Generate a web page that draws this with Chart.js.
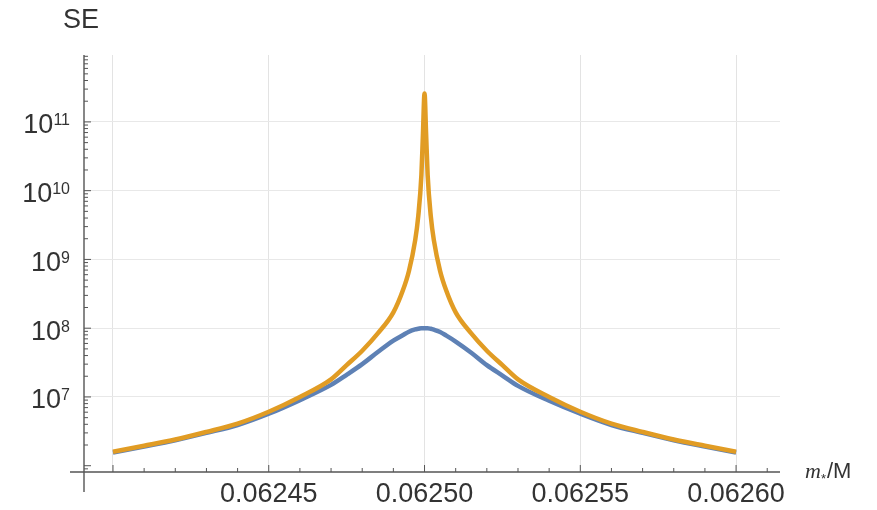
<!DOCTYPE html>
<html>
<head>
<meta charset="utf-8">
<script src="https://cdn.jsdelivr.net/npm/chart.js@4.4.1/dist/chart.umd.min.js"></script>
<style>
  html, body { margin: 0; padding: 0; background: #fff; }
  #wrap { width: 877px; height: 510px; }
</style>
</head>
<body>
<div id="wrap"><canvas id="chart" width="877" height="510"></canvas></div>
<script>
// m_*/M sample positions
const massRatio = [
  0.0624, 0.06241, 0.06242, 0.06243, 0.06244, 0.06245, 0.06246, 0.06247, 0.062475, 0.06248,
  0.062485, 0.06249, 0.062493, 0.062495, 0.062497, 0.062498, 0.062499, 0.0624995, 0.0625,
  0.0625005, 0.062501, 0.062502, 0.062503, 0.062505, 0.062507, 0.06251, 0.062515, 0.06252,
  0.062525, 0.06253, 0.06254, 0.06255, 0.06256, 0.06257, 0.06258, 0.06259, 0.0626
];
// SE, blue curve
const seBlue = [
  1.55e6, 1.9e6, 2.35e6, 3.0e6, 3.9e6, 5.7e6, 9.0e6, 1.5e7, 2.1e7, 3.0e7,
  4.5e7, 6.6e7, 7.9e7, 8.9e7, 9.6e7, 9.8e7, 1.0e8, 1.0e8, 1.0e8,
  1.0e8, 1.0e8, 9.8e7, 9.5e7, 8.8e7, 7.8e7, 6.4e7, 4.4e7, 2.9e7,
  2.05e7, 1.45e7, 8.8e6, 5.7e6, 3.9e6, 3.0e6, 2.35e6, 1.9e6, 1.55e6
];
// SE, orange curve
const seOrange = [
  1.6e6, 1.95e6, 2.4e6, 3.1e6, 4.1e6, 6.1e6, 1.0e7, 1.8e7, 2.9e7, 4.7e7,
  8.4e7, 1.7e8, 3.5e8, 6.8e8, 1.9e9, 4.3e9, 1.7e10, 6.8e10, 2.6e11,
  6.8e10, 1.7e10, 4.3e9, 1.9e9, 6.8e8, 3.5e8, 1.7e8, 8.4e7, 4.7e7,
  2.9e7, 1.8e7, 1.0e7, 6.1e6, 4.1e6, 3.1e6, 2.4e6, 1.95e6, 1.6e6
];

const xTickValues = [0.0624, 0.06245, 0.0625, 0.06255, 0.0626];
const xTickLabels = ['', '0.06245', '0.06250', '0.06255', '0.06260'];
const yTickValues = [1e7, 1e8, 1e9, 1e10, 1e11];
const yTickExponents = ['7', '8', '9', '10', '11'];

const X_MIN = 0.0623907, X_MAX = 0.0626141;
const Y_MIN = 8.1e5, Y_MAX = 9.4e11;

const fontFamily = '"Liberation Sans", Arial, sans-serif';
const tickFont = { family: fontFamily, size: 27 };
const textColor = '#333';
const axisColor = '#555';

// Mathematica-style axes: crossing lines, inward ticks, 10^n labels, axis labels
const axesPlugin = {
  id: 'mmaAxes',
  afterDraw(chart) {
    const { ctx, chartArea: a, scales: { x, y } } = chart;
    ctx.save();
    ctx.strokeStyle = axisColor;
    ctx.lineWidth = 1.4;
    ctx.beginPath();
    ctx.moveTo(a.left - 14, a.bottom);
    ctx.lineTo(a.right, a.bottom);
    ctx.moveTo(a.left, a.top);
    ctx.lineTo(a.left, a.bottom + 20);
    ctx.stroke();

    ctx.lineWidth = 1;
    ctx.beginPath();
    for (let k = -1; k <= 21; k++) {
      const v = 0.0624 + k * 0.00001;
      const px = x.getPixelForValue(v);
      if (px < a.left - 0.5 || px > a.right) continue;
      const len = k % 5 === 0 ? 7 : 4;
      ctx.moveTo(px, a.bottom);
      ctx.lineTo(px, a.bottom - len);
    }
    for (let e = 5; e <= 11; e++) {
      for (let m = 1; m <= 9; m++) {
        const v = m * Math.pow(10, e);
        if (v < Y_MIN || v > Y_MAX) continue;
        const py = y.getPixelForValue(v);
        const len = m === 1 ? 7 : 4;
        ctx.moveTo(a.left, py);
        ctx.lineTo(a.left + len, py);
      }
    }
    ctx.stroke();

    // y tick labels as 10 with raised exponent
    ctx.fillStyle = textColor;
    ctx.textBaseline = 'alphabetic';
    ctx.textAlign = 'left';
    yTickValues.forEach((v, i) => {
      const py = y.getPixelForValue(v);
      ctx.font = '16px ' + fontFamily;
      const expW = ctx.measureText(yTickExponents[i]).width;
      ctx.font = '27px ' + fontFamily;
      const baseW = ctx.measureText('10').width;
      const right = a.left - 14;
      ctx.fillText('10', right - expW - baseW, py + 11.5);
      ctx.font = '16px ' + fontFamily;
      ctx.fillText(yTickExponents[i], right - expW, py + 3.5);
    });

    ctx.font = '27px ' + fontFamily;
    ctx.fillText('SE', 63, 28);

    let tx = 805;
    const by = 478;
    ctx.font = 'italic 22px "Liberation Serif", "Times New Roman", serif';
    ctx.fillText('m', tx, by);
    tx += ctx.measureText('m').width;
    ctx.font = '13px ' + fontFamily;
    ctx.fillText('*', tx, by + 5);
    tx += ctx.measureText('*').width + 1;
    ctx.font = '22px ' + fontFamily;
    ctx.fillText('/M', tx, by);
    ctx.restore();
  }
};

new Chart(document.getElementById('chart'), {
  type: 'line',
  data: {
    labels: massRatio,
    datasets: [
      {
        label: 'SE blue',
        data: massRatio.map((m, i) => ({ x: m, y: seBlue[i] })),
        borderColor: '#5E81B5',
        borderWidth: 4.5,
        pointRadius: 0,
        cubicInterpolationMode: 'monotone',
        borderJoinStyle: 'round',
        order: 2
      },
      {
        label: 'SE orange',
        data: massRatio.map((m, i) => ({ x: m, y: seOrange[i] })),
        borderColor: '#E19C24',
        borderWidth: 4.5,
        pointRadius: 0,
        cubicInterpolationMode: 'monotone',
        borderJoinStyle: 'round',
        order: 1
      }
    ]
  },
  options: {
    responsive: false,
    animation: false,
    layout: { padding: { top: 55, right: 97, left: 0, bottom: 0 } },
    plugins: { legend: { display: false }, tooltip: { enabled: false } },
    scales: {
      x: {
        type: 'linear',
        bounds: 'data',
        min: X_MIN,
        max: X_MAX,
        afterBuildTicks: s => { s.ticks = xTickValues.map(v => ({ value: v })); },
        afterFit: s => { s.height = 38; },
        grid: { color: '#e3e3e3', drawTicks: false },
        border: { display: false },
        ticks: {
          callback: (v, i) => xTickLabels[i],
          font: tickFont,
          color: textColor,
          padding: 6,
          maxRotation: 0,
          autoSkip: false
        }
      },
      y: {
        type: 'logarithmic',
        bounds: 'data',
        min: Y_MIN,
        max: Y_MAX,
        afterBuildTicks: s => { s.ticks = yTickValues.map(v => ({ value: v })); },
        afterFit: s => { s.width = 84; },
        grid: { color: '#e8e8e8', drawTicks: false },
        border: { display: false },
        ticks: { display: false }
      }
    }
  },
  plugins: [axesPlugin]
});
</script>
</body>
</html>
